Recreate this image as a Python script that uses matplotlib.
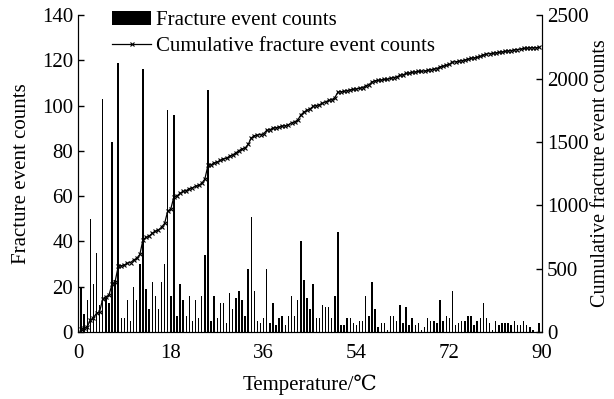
import matplotlib
matplotlib.use("Agg")
import matplotlib.pyplot as plt
import numpy as np

plt.rcParams["font.family"] = ["Liberation Serif", "DejaVu Serif"]
plt.rcParams["mathtext.fontset"] = "stix"

# 温度刻み 0.6℃ ごとの破壊イベント数
temp_step = 0.6
counts = [
    20, 8, 14, 50, 21, 35, 12, 103, 15, 13,
    84, 23, 119, 6, 6, 14, 5, 20, 14, 30,
    116, 19, 10, 22, 16, 10, 22, 30, 98, 16,
    96, 7, 21, 14, 7, 16, 5, 14, 6, 16,
    34, 107, 5, 16, 6, 13, 13, 4, 17, 10,
    15, 18, 14, 7, 28, 51, 18, 5, 4, 6,
    28, 4, 13, 3, 6, 7, 3, 7, 16, 7,
    14, 40, 23, 15, 10, 21, 6, 6, 12, 11,
    11, 6, 16, 44, 3, 3, 6, 6, 4, 3,
    5, 5, 16, 7, 22, 10, 2, 4, 4, 1,
    7, 7, 5, 12, 4, 11, 3, 6, 3, 4,
    1, 2, 6, 5, 5, 4, 14, 5, 7, 6,
    18, 3, 4, 5, 5, 7, 7, 3, 5, 6,
    13, 6, 4, 1, 5, 3, 4, 4, 4, 3,
    5, 3, 3, 5, 3, 2, 1, 0, 4,
]
temps = temp_step * np.arange(1, len(counts) + 1)
cumulative = np.cumsum(counts)

x_ticks = [0, 18, 36, 54, 72, 90]
fs = 15

fig = plt.figure(figsize=(6.14, 3.99), dpi=100)
ax = fig.add_axes([0.127, 0.168, 0.756, 0.794])
ax2 = ax.twinx()

bars = ax.bar(temps, counts, width=0.28, color="black", linewidth=0,
              label="Fracture event counts")
line, = ax2.plot(temps, cumulative, color="black", lw=0.9, marker="x",
                 ms=3.5, mew=0.8, label="Cumulative fracture event counts")

ax.set_xlim(0, 90)
ax.set_ylim(0, 140)
ax2.set_ylim(0, 2500)
ax.set_xticks(x_ticks)
ax.set_yticks(np.arange(0, 141, 20))
ax2.set_yticks(np.arange(0, 2501, 500))

for a in (ax, ax2):
    a.spines["top"].set_visible(False)
    a.tick_params(direction="in", length=4, width=1, labelsize=fs)
ax.tick_params(axis="x", length=0, pad=9)

ax.set_xlabel("Temperature/\u2103", fontsize=fs, labelpad=8)
ax.set_ylabel("Fracture event counts", fontsize=fs, labelpad=8)
ax2.set_ylabel("Cumulative fracture event counts", fontsize=14.5, labelpad=2)

ax.legend([bars, line], [bars.get_label(), line.get_label()],
          loc="upper left", bbox_to_anchor=(0.055, 1.04), frameon=False,
          fontsize=fs, handlelength=1.9, handletextpad=0.2,
          labelspacing=0.3, borderaxespad=0, numpoints=1)

fig.savefig("out.png", dpi=100)
